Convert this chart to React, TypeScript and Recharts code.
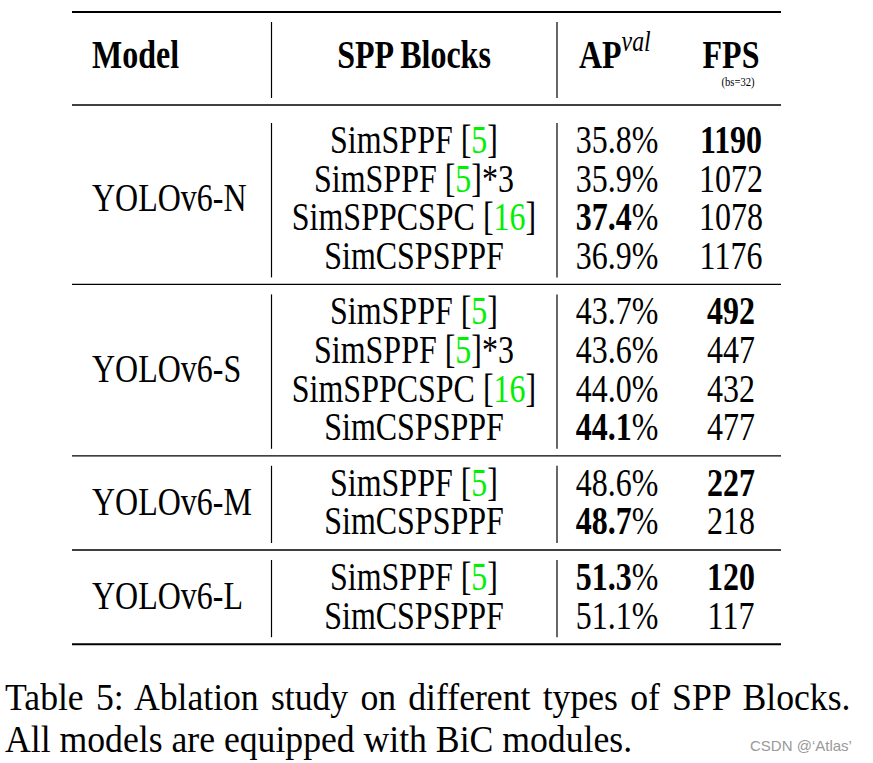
import React from "react";
import { ScatterChart, Scatter, XAxis, YAxis, ReferenceLine } from "recharts";

// table content
const MODELS = ["YOLOv6-N", "YOLOv6-S", "YOLOv6-M", "YOLOv6-L"];
const BLOCKS = [
  ["SimSPPF [5]", "SimSPPF [5]*3", "SimSPPCSPC [16]", "SimCSPSPPF"],
  ["SimSPPF [5]", "SimSPPF [5]*3", "SimSPPCSPC [16]", "SimCSPSPPF"],
  ["SimSPPF [5]", "SimCSPSPPF"],
  ["SimSPPF [5]", "SimCSPSPPF"],
];
const AP_VAL = [
  [35.8, 35.9, 37.4, 36.9],
  [43.7, 43.6, 44.0, 44.1],
  [48.6, 48.7],
  [51.3, 51.1],
];
const FPS = [
  [1190, 1072, 1078, 1176],
  [492, 447, 432, 477],
  [227, 218],
  [120, 117],
];
const HEADERS = ["Model", "SPP Blocks", "AP", "FPS"];
const CAPTION = [
  "Table 5: Ablation study on different types of SPP Blocks.",
  "All models are equipped with BiC modules.",
];

// page / layout
const W = 873;
const H = 763;
const FONT = "Liberation Serif";
const FS = 39;
const SX = 0.82; // the source render is squeezed horizontally
const CAP_SX = 0.915;
const TABLE_L = 72;
const TABLE_R = 781;
const TOP_RULE = 12;
const HEAD_BOTTOM = 105;
const DOUBLE_GAP = 8;
const HEAD_BASE = 68;
const ROW_H = 38.6;
const GROUP_PAD = 8.5;
const FIRST_BASE = 40;
const COL_X = { model: 92, block: 414, ap: 617, fps: 731 };
const VLINES = [271.5, 557];
const CITE_GREEN = "#00f000";

type Part = { t: string; bold?: boolean; italic?: boolean; color?: string; size?: number; dy?: number };
type Cell = {
  x: number;
  y: number;
  anchor: string;
  parts: Part[];
  size?: number;
  family?: string;
  fill?: string;
  sx?: number;
  wordSpacing?: number;
};

function blockParts(label: string): Part[] {
  const m = label.match(/^(.*\[)(\d+)(\].*)$/);
  if (!m) return [{ t: label }];
  return [{ t: m[1] }, { t: m[2], color: CITE_GREEN }, { t: m[3] }];
}

// group spans along the table
const groups: { top: number; bottom: number }[] = [];
let cursor = HEAD_BOTTOM + DOUBLE_GAP;
MODELS.forEach((_, g) => {
  const top = cursor;
  const bottom = top + GROUP_PAD * 2 + ROW_H * BLOCKS[g].length;
  groups.push({ top, bottom });
  cursor = bottom;
});

const cells: Cell[] = [];
cells.push({ x: COL_X.model, y: HEAD_BASE, anchor: "start", parts: [{ t: HEADERS[0], bold: true }] });
cells.push({ x: COL_X.block, y: HEAD_BASE, anchor: "middle", parts: [{ t: HEADERS[1], bold: true }] });
cells.push({
  x: 579,
  y: HEAD_BASE,
  anchor: "start",
  parts: [{ t: HEADERS[2], bold: true }, { t: "val", italic: true, size: 29, dy: -17 }],
});
cells.push({ x: COL_X.fps, y: HEAD_BASE, anchor: "middle", parts: [{ t: HEADERS[3], bold: true }] });
cells.push({ x: 738, y: 86, anchor: "middle", parts: [{ t: "(bs=32)" }], size: 13 });

MODELS.forEach((model, g) => {
  const { top } = groups[g];
  const n = BLOCKS[g].length;
  const apMax = Math.max(...AP_VAL[g]);
  const fpsMax = Math.max(...FPS[g]);
  cells.push({ x: COL_X.model, y: top + FIRST_BASE + (ROW_H * (n - 1)) / 2, anchor: "start", parts: [{ t: model }] });
  BLOCKS[g].forEach((label, i) => {
    const y = top + FIRST_BASE + ROW_H * i;
    cells.push({ x: COL_X.block, y, anchor: "middle", parts: blockParts(label) });
    const ap = AP_VAL[g][i];
    cells.push({ x: COL_X.ap, y, anchor: "middle", parts: [{ t: ap.toFixed(1), bold: ap === apMax }, { t: "%" }] });
    const fps = FPS[g][i];
    cells.push({ x: COL_X.fps, y, anchor: "middle", parts: [{ t: String(fps), bold: fps === fpsMax }] });
  });
});

// caption, first line justified to the column width
cells.push({ x: 5, y: 710, anchor: "start", parts: [{ t: CAPTION[0] }], sx: CAP_SX, wordSpacing: 3.6 });
cells.push({ x: 5, y: 752, anchor: "start", parts: [{ t: CAPTION[1] }], sx: CAP_SX });
cells.push({
  x: 750,
  y: 751,
  anchor: "start",
  parts: [{ t: "CSDN @‘Atlas’" }],
  size: 15,
  family: "Liberation Sans",
  fill: "#999",
  sx: 1,
});

function TextCell(props: any) {
  const { cx, cy, payload } = props;
  const c: Cell = payload;
  return (
    <g transform={`translate(${cx},${cy}) scale(${c.sx ?? SX},1)`}>
      <text
        x={0}
        y={0}
        textAnchor={c.anchor}
        style={{ fontFamily: c.family ?? FONT, wordSpacing: c.wordSpacing ?? 0 }}
        fontSize={c.size ?? FS}
        fill={c.fill ?? "#000"}
      >
        {c.parts.map((p, i) => (
          <tspan
            key={i}
            fontWeight={p.bold ? "bold" : "normal"}
            fontStyle={p.italic ? "italic" : "normal"}
            fill={p.color}
            fontSize={p.size}
            dy={p.dy}
          >
            {p.t}
          </tspan>
        ))}
      </text>
    </g>
  );
}

export default function App() {
  const hRules: { y: number; w: number }[] = [
    { y: TOP_RULE, w: 2 },
    { y: HEAD_BOTTOM, w: 1.3 },
    ...groups.map((g, i) => ({ y: g.bottom, w: i === groups.length - 1 ? 2 : 1.3 })),
  ];
  const vSpans = [{ top: TOP_RULE, bottom: HEAD_BOTTOM }, ...groups];

  return (
    <div style={{ position: "absolute", left: 0, top: 0, width: W, height: H, background: "#fff" }}>
      <ScatterChart width={W} height={H} margin={{ top: 0, right: 0, bottom: 0, left: 0 }}>
        <XAxis type="number" dataKey="x" domain={[0, W]} allowDataOverflow hide />
        <YAxis type="number" dataKey="y" domain={[0, H]} allowDataOverflow reversed hide />
        {hRules.map((r, i) => (
          <ReferenceLine
            key={`h${i}`}
            segment={[{ x: TABLE_L, y: r.y }, { x: TABLE_R, y: r.y }]}
            stroke="#000"
            strokeWidth={r.w}
          />
        ))}
        {vSpans.flatMap((s, i) =>
          VLINES.map((vx, j) => (
            <ReferenceLine
              key={`v${i}-${j}`}
              segment={[{ x: vx, y: s.top + 10 }, { x: vx, y: s.bottom - 7 }]}
              stroke="#000"
              strokeWidth={1.2}
            />
          ))
        )}
        <Scatter data={cells} shape={TextCell} isAnimationActive={false} />
      </ScatterChart>
    </div>
  );
}
